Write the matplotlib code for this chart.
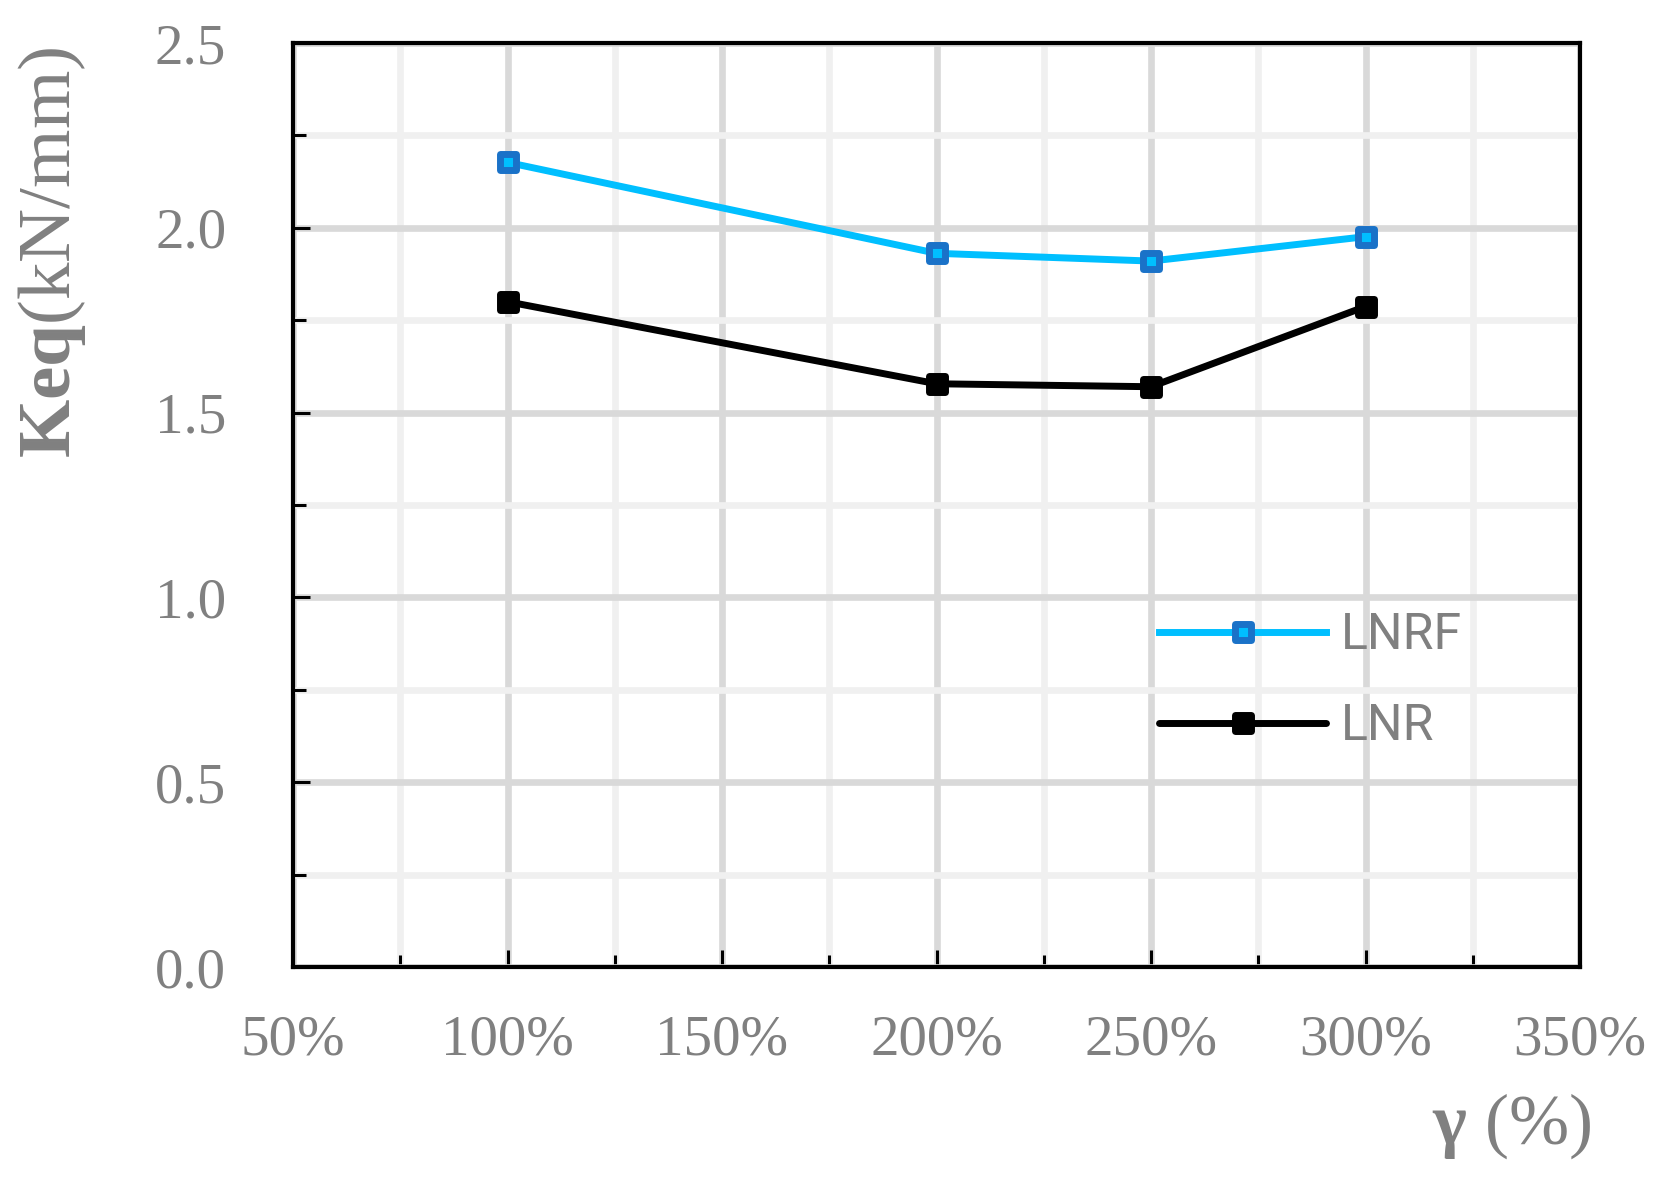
import matplotlib
matplotlib.use("Agg")
import matplotlib.pyplot as plt
from matplotlib.markers import MarkerStyle
from matplotlib.ticker import MultipleLocator, FuncFormatter

# ---- data ----
strain = [100, 200, 250, 300]              # gamma (%)
keq_lnrf = [2.177, 1.931, 1.910, 1.976]    # kN/mm
keq_lnr = [1.800, 1.578, 1.570, 1.787]     # kN/mm
series_names = ["LNRF", "LNR"]

plt.rcParams['mathtext.fontset'] = 'custom'
plt.rcParams['mathtext.rm'] = 'Liberation Serif'
plt.rcParams['mathtext.bf'] = 'Liberation Serif:bold'

gray = '#808080'
fig = plt.figure(figsize=(16.63, 11.83), dpi=100)
ax = fig.add_axes([293/1663, 216/1183, (1580-293)/1663, (967-43)/1183])

sq = MarkerStyle('s', joinstyle='round')
ax.plot(strain, keq_lnrf, color='#00BFFF', lw=5, marker=sq, ms=11.5,
        mfc='#00BFFF', mec='#1A72C8', mew=5, label=series_names[0], zorder=3)
ax.plot(strain, keq_lnr, color='black', lw=5, marker=sq, ms=11.5,
        mfc='black', mec='black', mew=5, label=series_names[1], zorder=3,
        solid_capstyle='round')

ax.set_xlim(50, 350)
ax.set_ylim(0, 2.5)
ax.xaxis.set_major_locator(MultipleLocator(50))
ax.xaxis.set_minor_locator(MultipleLocator(25))
ax.yaxis.set_major_locator(MultipleLocator(0.5))
ax.yaxis.set_minor_locator(MultipleLocator(0.25))
ax.xaxis.set_major_formatter(FuncFormatter(lambda v, p: f"{int(round(v))}%"))
ax.yaxis.set_major_formatter(FuncFormatter(lambda v, p: f"{v:.1f}"))

ax.grid(which='major', color='#d9d9d9', lw=4.8, zorder=0)
ax.grid(which='minor', color='#f0f0f0', lw=4.8, zorder=0)
ax.set_axisbelow(True)

for s in ax.spines.values():
    s.set_linewidth(3)
    s.set_color('black')

ax.tick_params(which='both', direction='in', top=False, right=False,
               color='black', width=2.2)
ax.tick_params(which='major', length=12)
ax.tick_params(which='minor', length=9)
ax.tick_params(axis='x', which='major', pad=34, labelsize=41, labelcolor=gray)
ax.tick_params(axis='y', which='major', pad=48, labelsize=41, labelcolor=gray)
for lab in ax.get_xticklabels() + ax.get_yticklabels():
    lab.set_fontfamily('Liberation Serif')

fig.text(52/1663, 1136/1183, r'$\mathbf{Keq}$(kN/mm)', rotation=90,
         ha='center', va='top', fontsize=54, color=gray,
         fontfamily='Liberation Serif')
fig.text(1512/1663, (1183-1126)/1183, r'$\mathbf{γ}$ (%)',
         ha='center', va='center', fontsize=52, color=gray,
         fontfamily='Liberation Serif')

leg = ax.legend(loc='upper left', bbox_to_anchor=(0.673, 0.385),
                frameon=False, handlelength=3.34,
                handletextpad=0.3, labelspacing=0.86, borderpad=0,
                borderaxespad=0, prop={'family': 'Roboto', 'size': 36})
for t in leg.get_texts():
    t.set_color(gray)

fig.savefig('out.png', dpi=100)
